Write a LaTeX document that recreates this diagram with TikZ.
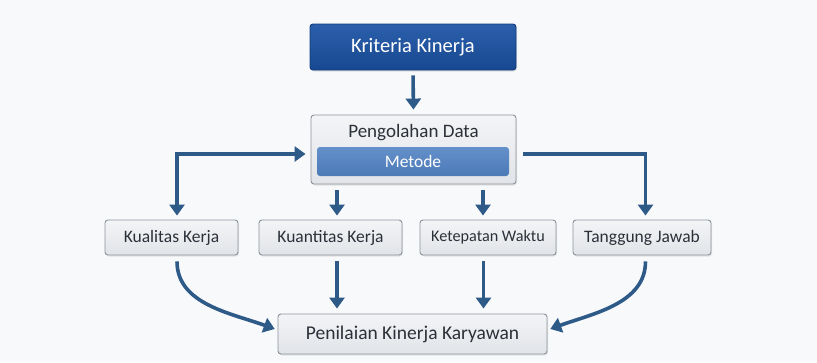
\documentclass[tikz,border=0pt]{standalone}
\usepackage{fontspec}
\setmainfont{Carlito}
\usetikzlibrary{arrows.meta,shadows,calc}
\definecolor{bg}{HTML}{F8F9FB}
\definecolor{arrc}{HTML}{2E5A88}
\definecolor{txt}{HTML}{2C3038}
\definecolor{gborder}{HTML}{8C929B}
\definecolor{gtop}{HTML}{F3F4F6}
\definecolor{gbot}{HTML}{E1E4E8}
\definecolor{btop}{HTML}{2C5FAB}
\definecolor{bbot}{HTML}{174891}
\definecolor{bborder}{HTML}{123C7A}
\definecolor{mtop}{HTML}{6490CA}
\definecolor{mbot}{HTML}{4C7AB7}
\tikzset{
  graybox/.style={draw=gborder, line width=0.9pt, rounded corners=3pt,
    top color=gtop, bottom color=gbot, text=txt, inner sep=0pt,
    drop shadow={opacity=0.18, shadow xshift=1pt, shadow yshift=-1.5pt}},
  bluebox/.style={draw=bborder, line width=0.9pt, rounded corners=3pt,
    top color=btop, bottom color=bbot, text=white, inner sep=0pt,
    drop shadow={opacity=0.2, shadow xshift=1pt, shadow yshift=-1.5pt}},
  metbox/.style={rounded corners=3pt, top color=mtop, bottom color=mbot,
    text=white, inner sep=0pt},
  arr/.style={draw=arrc, line width=3.6pt, -{Triangle[length=11pt,width=15pt]}},
  arrb/.style={draw=arrc, line width=3.6pt, {Triangle[length=11pt,width=15pt]}-{Triangle[length=11pt,width=15pt]}},
  kkfont/.style={font=\fontsize{20.5}{24}\selectfont},
  bigfont/.style={font=\fontsize{19.5}{23}\selectfont},
  pdfont/.style={font=\fontsize{19}{22}\selectfont},
  metfont/.style={font=\fontsize{17.5}{20}\selectfont},
  midfont/.style={font=\fontsize{17.5}{20}\selectfont},
  smfont/.style={font=\fontsize{16.2}{19}\selectfont},
}
\begin{document}
\begin{tikzpicture}[x=1pt,y=-1pt]
\fill[bg] (0,0) rectangle (817,362);
\useasboundingbox (0,0) rectangle (817,362);

\node[bluebox, kkfont, minimum width=206pt, minimum height=46pt] (kk) at (413,47) {Kriteria Kinerja};

\node[graybox, minimum width=205pt, minimum height=69pt] (pd) at (413.5,149.5) {};
\node[txt, pdfont] (pdt) at (413.5,133) {Pengolahan Data};
\node[metbox, metfont, minimum width=192pt, minimum height=29pt] (met) at (413,161.5) {Metode};

\node[graybox, midfont, minimum width=133pt, minimum height=35pt] (k1) at (171.5,237.5) {Kualitas Kerja};
\node[graybox, midfont, minimum width=143pt, minimum height=35pt] (k2) at (330.5,237.5) {Kuantitas Kerja};
\node[graybox, smfont, minimum width=136pt, minimum height=35pt] (k3) at (488,237.5) {Ketepatan Waktu};
\node[graybox, midfont, minimum width=138pt, minimum height=35pt] (k4) at (642,237.5) {Tanggung Jawab};

\node[graybox, bigfont, minimum width=269pt, minimum height=40pt] (pen) at (412.5,334) {Penilaian Kinerja Karyawan};

% top arrow
\draw[arr, shorten <=5pt, shorten >=5pt] (kk.south) -- (pd.north);

% left double-headed connector
\draw[arrb, shorten <=5pt, shorten >=4pt] ([yshift=-4.5pt]pd.west) -| ([xshift=5.5pt]k1.north);
% right connector
\draw[arr, shorten <=7pt, shorten >=4pt] ([yshift=-4.5pt]pd.east) -| ([xshift=3.5pt]k4.north);
% middle down arrows
\draw[arr, shorten <=6pt, shorten >=4pt] ([xshift=-76.5pt]pd.south) -- ([xshift=-76.5pt]pd.south |- k2.north);
\draw[arr, shorten <=6pt, shorten >=4pt] ([xshift=69.5pt]pd.south) -- ([xshift=69.5pt]pd.south |- k3.north);

% bottom straight arrows
\draw[arr, shorten <=6pt, shorten >=5pt] ([xshift=6.5pt]k2.south) -- ([xshift=6.5pt]k2.south |- pen.north);
\draw[arr, shorten <=6pt, shorten >=5pt] ([xshift=-4.5pt]k3.south) -- ([xshift=-4.5pt]k3.south |- pen.north);

% curved arrows
\draw[arr, shorten <=6pt, shorten >=3pt] ([xshift=5.5pt]k1.south) to[out=-90, in=160] ([yshift=4pt]pen.west);
\draw[arr, shorten <=6pt, shorten >=3pt] ([xshift=3.5pt]k4.south) to[out=-90, in=20] ([yshift=4pt]pen.east);
\end{tikzpicture}
\end{document}
